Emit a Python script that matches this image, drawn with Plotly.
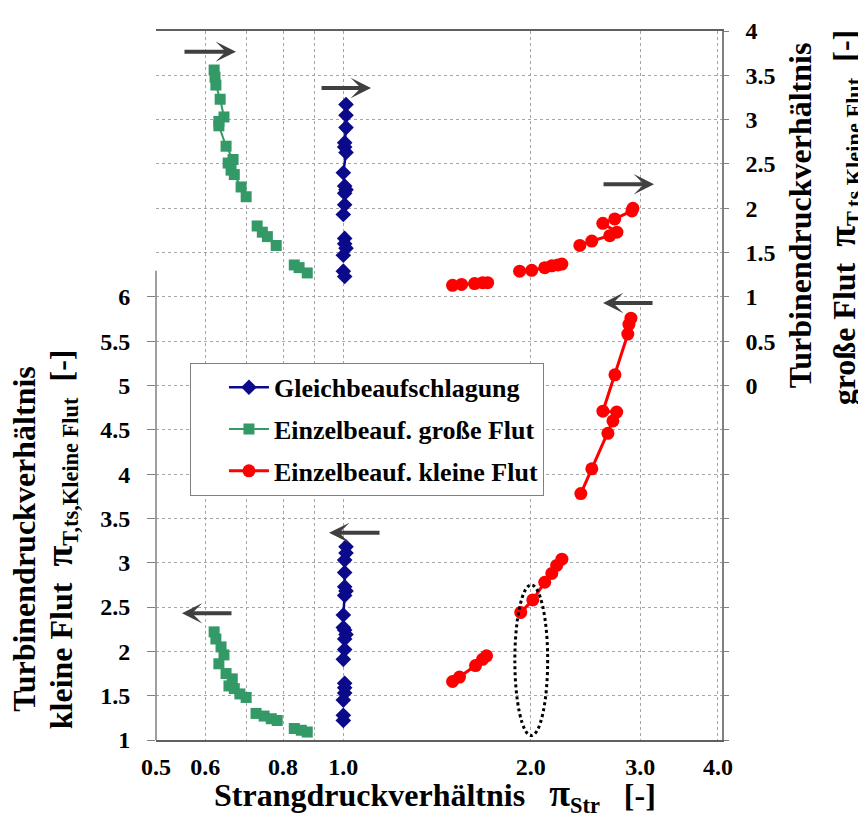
import math
import plotly.graph_objects as go

# ---------------- data ----------------
series_names = ["Gleichbeaufschlagung", "Einzelbeauf. große Flut", "Einzelbeauf. kleine Flut"]

# Gleichbeaufschlagung – upper group (right axis, große Flut)
gleich_top_x = [1.01, 1.01, 1.01, 1.005, 1.005, 1.01, 1.0, 1.005, 1.01, 1.005, 1.005, 1.0, None,
                1.005, 1.005, 1.01, 1.0, None, 1.0, 1.005]
gleich_top_y = [3.17, 3.05, 2.91, 2.74, 2.69, 2.63, 2.40, 2.25, 2.21, 2.17, 2.04, 1.93, None,
                1.66, 1.60, 1.55, 1.47, None, 1.29, 1.23]
# Gleichbeaufschlagung – lower group (left axis, kleine Flut)
gleich_bot_x = [1.01, 1.01, 1.005, 1.005, 1.005, 1.01, 1.005, 1.0, 1.0, 1.005, 1.01, 1.005, 1.005, 1.0, None,
                1.005, 1.005, 1.005, 1.0, None, 1.0, 1.0]
gleich_bot_y = [3.18, 3.11, 3.03, 2.89, 2.73, 2.68, 2.63, 2.41, 2.27, 2.24, 2.19, 2.14, 2.02, 1.91, None,
                1.64, 1.59, 1.53, 1.45, None, 1.28, 1.22]

# Einzelbeauf. große Flut
gross_top_x = [0.620, 0.622, 0.624, 0.634, 0.643, 0.631, 0.631, 0.648, 0.665, 0.653, 0.660, 0.668, 0.685, 0.698, None,
               0.727, 0.741, 0.755, 0.780, None, 0.834, 0.849, 0.875]
gross_top_y = [3.56, 3.48, 3.39, 3.23, 3.03, 2.98, 2.93, 2.70, 2.55, 2.51, 2.43, 2.38, 2.24, 2.13, None,
               1.80, 1.73, 1.68, 1.58, None, 1.36, 1.33, 1.27]
gross_bot_x = [0.620, 0.624, 0.636, 0.643, 0.631, 0.648, 0.663, 0.655, 0.668, 0.682, 0.698, None,
               0.724, 0.746, 0.766, 0.783, None, 0.834, 0.856, 0.875]
gross_bot_y = [2.22, 2.14, 2.05, 1.96, 1.86, 1.75, 1.69, 1.61, 1.58, 1.52, 1.48, None,
               1.30, 1.27, 1.24, 1.22, None, 1.13, 1.11, 1.09]

# Einzelbeauf. kleine Flut
klein_top_x = [1.498, 1.549, 1.625, 1.674, 1.706, None,
               1.920, 2.008, 2.107, 2.163, 2.212, 2.245, None,
               2.399, 2.508, 2.680, 2.752, 2.612, 2.730, 2.909, 2.920]
klein_top_y = [1.13, 1.14, 1.15, 1.16, 1.16, None,
               1.29, 1.30, 1.33, 1.35, 1.36, 1.37, None,
               1.58, 1.63, 1.69, 1.73, 1.83, 1.88, 1.97, 2.00]
klein_bot_x = [1.498, 1.537, 1.631, 1.674, 1.699, None,
               1.928, 2.016, 2.107, 2.163, 2.202, 2.245, None,
               2.408, 2.508, 2.662, 2.712, 2.750, 2.613, 2.732, 2.865, 2.877, 2.899]
klein_bot_y = [1.66, 1.71, 1.84, 1.91, 1.95, None,
               2.44, 2.58, 2.78, 2.88, 2.97, 3.04, None,
               3.78, 4.06, 4.46, 4.60, 4.70, 4.71, 5.12, 5.58, 5.69, 5.76]

x_tickvals = [0.5, 0.6, 0.7, 0.8, 0.9, 1.0, 2.0, 3.0, 4.0]
x_ticktext = ["0.5", "0.6", "", "0.8", "", "1.0", "2.0", "3.0", "4.0"]
left_tickvals = [1, 1.5, 2, 2.5, 3, 3.5, 4, 4.5, 5, 5.5, 6]
left_ticktext = ["1", "1.5", "2", "2.5", "3", "3.5", "4", "4.5", "5", "5.5", "6"]
right_tickvals = [-4, -3.5, -3, -2.5, -2, -1.5, -1, -0.5, 0, 0.5, 1, 1.5, 2, 2.5, 3, 3.5, 4]
right_ticktext = [""] * 8 + ["0", "0.5", "1", "1.5", "2", "2.5", "3", "3.5", "4"]


def bold(labels):
    return [f"<b>{t}</b>" if t else "" for t in labels]


# ---------------- styling ----------------
FONT = "Liberation Serif"
BLUE = "#0a0a8a"
GREEN = "#339966"
RED = "#ff0000"
ARROW = "#404040"

styles = [
    dict(color=BLUE, symbol="diamond", size=12, width=2.5),
    dict(color=GREEN, symbol="square", size=11, width=2),
    dict(color=RED, symbol="circle", size=13, width=3),
]
data_pairs = [
    ((gleich_top_x, gleich_top_y), (gleich_bot_x, gleich_bot_y)),
    ((gross_top_x, gross_top_y), (gross_bot_x, gross_bot_y)),
    ((klein_top_x, klein_top_y), (klein_bot_x, klein_bot_y)),
]

fig = go.Figure()
for name, st, (top, bot) in zip(series_names, styles, data_pairs):
    fig.add_trace(go.Scatter(
        x=bot[0], y=bot[1], mode="lines+markers", name=f"<b>{name}</b>",
        legendgroup=name, showlegend=True, yaxis="y", connectgaps=False,
        line=dict(color=st["color"], width=st["width"]),
        marker=dict(color=st["color"], symbol=st["symbol"], size=st["size"]),
    ))
    fig.add_trace(go.Scatter(
        x=top[0], y=top[1], mode="lines+markers", name=name,
        legendgroup=name, showlegend=False, yaxis="y2", connectgaps=False,
        line=dict(color=st["color"], width=st["width"]),
        marker=dict(color=st["color"], symbol=st["symbol"], size=st["size"]),
    ))

tickfont = dict(family=FONT, size=24, color="black")
grid = dict(gridcolor="#a6a6a6", griddash="dot", gridwidth=1)

# page body has an 8px margin -> figure is 8px smaller, plot area lands at 156..722 x 18..740
fig.update_layout(
    width=858, height=814,
    margin=dict(l=148, r=144, t=10, b=82),
    paper_bgcolor="white", plot_bgcolor="white",
    font=dict(family=FONT, color="black"),
    xaxis=dict(
        type="log", range=[math.log10(0.5), math.log10(4.06)],
        tickvals=x_tickvals, ticktext=bold(x_ticktext), tickfont=tickfont,
        showgrid=True, **grid, showline=True, mirror=True,
        linecolor="#606060", linewidth=1.5, ticks="", ticklabelstandoff=4,
        zeroline=False, ticklabeloverflow="allow",
    ),
    yaxis=dict(
        range=[1, 9], tickvals=left_tickvals, ticktext=bold(left_ticktext), tickfont=tickfont,
        showgrid=False, showline=False, zeroline=False,
        ticks="outside", ticklen=8, tickcolor="#808080", tickwidth=1,
        ticklabelstandoff=12, ticklabeloverflow="allow",
    ),
    yaxis2=dict(
        range=[-4, 4], overlaying="y", side="right",
        tickvals=right_tickvals, ticktext=bold(right_ticktext), tickfont=tickfont,
        showgrid=True, **grid, showline=True, linecolor="#808080", linewidth=1.5,
        ticks="outside", ticklen=5, tickcolor="#808080", zeroline=False,
        ticklabelstandoff=12, ticklabeloverflow="allow",
    ),
    legend=dict(
        x=0.06, y=0.532, xanchor="left", yanchor="top",
        bgcolor="white", bordercolor="#808080", borderwidth=1,
        font=dict(family=FONT, size=26, color="black"),
        tracegroupgap=5, indentation=33, itemwidth=40,
    ),
)

# partial left axis line
fig.add_shape(type="line", xref="paper", yref="paper", x0=0, x1=0, y0=0, y1=0.662,
              line=dict(color="#808080", width=1.5))

# dotted ellipse around the 2.0 region
fig.add_shape(type="circle", xref="paper", yref="y", x0=0.634, x1=0.692, y0=1.05, y1=2.75,
              line=dict(color="black", width=3, dash="dot"))

# arrows (head position in paper coords, tail offset in px)
arrows = [
    (0.1413, 0.9709, -53),
    (0.3799, 0.9197, -51),
    (0.8799, 0.7839, -52),
    (0.7898, 0.6163, 51),
    (0.3057, 0.2922, 52),
    (0.0459, 0.1787, 51),
]
for ax_x, ax_y, off in arrows:
    fig.add_annotation(x=ax_x, y=ax_y, xref="paper", yref="paper", text="",
                       showarrow=True, ax=off, ay=0, arrowhead=3, arrowsize=0.85,
                       arrowwidth=4, arrowcolor=ARROW, standoff=0)

PI = "<span style='font-size:38px'>π</span>"
title_font = dict(family=FONT, size=32, color="black")
fig.add_annotation(
    x=0.493, y=-0.077, xref="paper", yref="paper", showarrow=False,
    text=f"<b>Strangdruckverhältnis   {PI}<sub>Str</sub>   [-]</b>",
    font=title_font, xanchor="center", yanchor="middle",
)
# left title, two lines
fig.add_annotation(
    x=-0.233, y=0.284, xref="paper", yref="paper", showarrow=False, textangle=-90,
    text="<b>Turbinendruckverhältnis</b>", font=title_font,
    xanchor="center", yanchor="middle",
)
fig.add_annotation(
    x=-0.168, y=0.283, xref="paper", yref="paper", showarrow=False, textangle=-90,
    text=f"<b>kleine Flut  {PI}<sub>T,ts,Kleine Flut</sub>  [-]</b>", font=title_font,
    xanchor="center", yanchor="middle",
)
# right title, two lines
fig.add_annotation(
    x=1.137, y=0.7396, xref="paper", yref="paper", showarrow=False, textangle=-90,
    text="<b>Turbinendruckverhältnis</b>", font=title_font,
    xanchor="center", yanchor="middle",
)
fig.add_annotation(
    x=1.217, y=0.737, xref="paper", yref="paper", showarrow=False, textangle=-90,
    text=f"<b>große Flut  {PI}<sub>T,ts,Kleine Flut</sub>  [-]</b>", font=title_font,
    xanchor="center", yanchor="middle",
)

fig.write_html("out.html")
